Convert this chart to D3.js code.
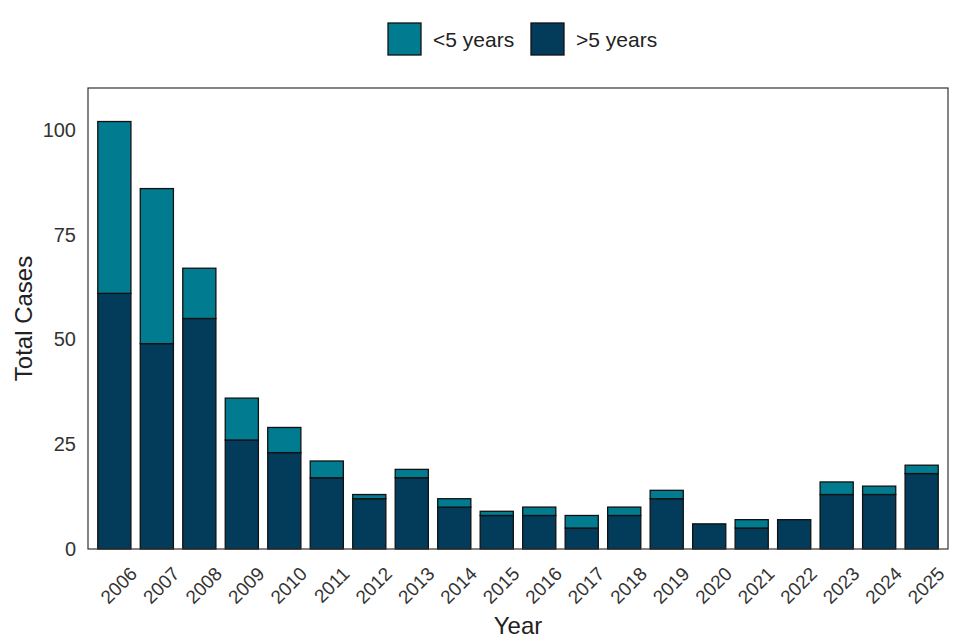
<!DOCTYPE html>
<html>
<head>
<meta charset="utf-8">
<script src="https://cdn.jsdelivr.net/npm/d3@7/dist/d3.min.js"></script>
<style>
  body { margin: 0; background: #fff; }
  text { font-family: "Liberation Sans", Arial, sans-serif; }
</style>
</head>
<body>
<svg id="chart" width="960" height="640"></svg>
<script>

// data
var years = ["2006","2007","2008","2009","2010","2011","2012","2013","2014","2015",
             "2016","2017","2018","2019","2020","2021","2022","2023","2024","2025"];
var over5  = [61, 49, 55, 26, 23, 17, 12, 17, 10, 8, 8, 5, 8, 12, 6, 5, 7, 13, 13, 18];
var under5 = [41, 37, 12, 10,  6,  4,  1,  2,  2, 1, 2, 3, 2,  2, 0, 2, 0,  3,  2,  2];
var yTicks = [0, 25, 50, 75, 100];

var colUnder = "#007b90";
var colOver  = "#033b5b";

var svg = d3.select("#chart");

var panel = { left: 88, right: 948, top: 88, bottom: 549 };

///////////////////////
// Scales
var x = d3.scaleBand()
    .domain(years)
    .range([panel.left, panel.right])
    .paddingInner(0.22)
    .paddingOuter(0.23);

var y = d3.scaleLinear()
    .domain([0, 110])
    .range([panel.bottom, panel.top]);

var rows = years.map(function(yr, i) {
  return { year: yr, over: over5[i], under: under5[i] };
});

///////////////////////
// Bars (>5 at the bottom, <5 stacked on top)
var stack = d3.stack().keys(["over", "under"]);
var series = stack(rows);
var colors = { over: colOver, under: colUnder };

svg.append("g")
  .selectAll("g")
  .data(series)
  .enter().append("g")
    .attr("fill", function(s) { return colors[s.key]; })
  .selectAll("rect")
  .data(function(s) { return s.filter(function(d) { return d[1] > d[0]; }); })
  .enter().append("rect")
    .attr("x", function(d) { return x(d.data.year); })
    .attr("y", function(d) { return y(d[1]); })
    .attr("width", x.bandwidth())
    .attr("height", function(d) { return y(d[0]) - y(d[1]); })
    .attr("stroke", "#111")
    .attr("stroke-width", 1.3);

// panel border
svg.append("rect")
    .attr("x", panel.left).attr("y", panel.top)
    .attr("width", panel.right - panel.left).attr("height", panel.bottom - panel.top)
    .attr("fill", "none")
    .attr("stroke", "#333")
    .attr("stroke-width", 1.2);

///////////////////////
// Axes
var yAxis = d3.axisLeft(y).tickValues(yTicks).tickSize(0).tickPadding(12);
var gy = svg.append("g")
    .attr("transform", "translate(" + panel.left + ",0)")
    .call(yAxis);
gy.select(".domain").remove();
gy.selectAll("text")
    .attr("fill", "#333")
    .style("font-family", "Liberation Sans, Arial, sans-serif")
    .style("font-size", "20px");

var xAxis = d3.axisBottom(x).tickSize(0).tickPadding(0);
var gx = svg.append("g")
    .attr("transform", "translate(0," + panel.bottom + ")")
    .call(xAxis);
gx.select(".domain").remove();
gx.selectAll("text")
    .attr("fill", "#333")
    .style("font-family", "Liberation Sans, Arial, sans-serif")
    .style("font-size", "19px")
    .attr("text-anchor", "end")
    .attr("dy", null)
    .attr("y", null)
    .attr("transform", "translate(24,26) rotate(-45)");

// axis titles
svg.append("text")
    .text("Total Cases")
    .attr("text-anchor", "middle")
    .attr("transform", "translate(32," + ((panel.top + panel.bottom) / 2) + ") rotate(-90)")
    .attr("fill", "#222")
    .style("font-size", "24px");

svg.append("text")
    .text("Year")
    .attr("text-anchor", "middle")
    .attr("x", (panel.left + panel.right) / 2)
    .attr("y", 634)
    .attr("fill", "#222")
    .style("font-size", "24px");

///////////////////////
// Legend
var legendItems = [
  { label: "<5 years", color: colUnder, x: 388 },
  { label: ">5 years", color: colOver,  x: 531 }
];
var legend = svg.append("g").selectAll("g")
  .data(legendItems)
  .enter().append("g")
    .attr("transform", function(d) { return "translate(" + d.x + ",23)"; });
legend.append("rect")
    .attr("width", 33).attr("height", 32)
    .attr("fill", function(d) { return d.color; })
    .attr("stroke", "#111")
    .attr("stroke-width", 1.3);
legend.append("text")
    .text(function(d) { return d.label; })
    .attr("x", 45)
    .attr("y", 24)
    .attr("fill", "#222")
    .style("font-size", "21px");

</script>
</body>
</html>
